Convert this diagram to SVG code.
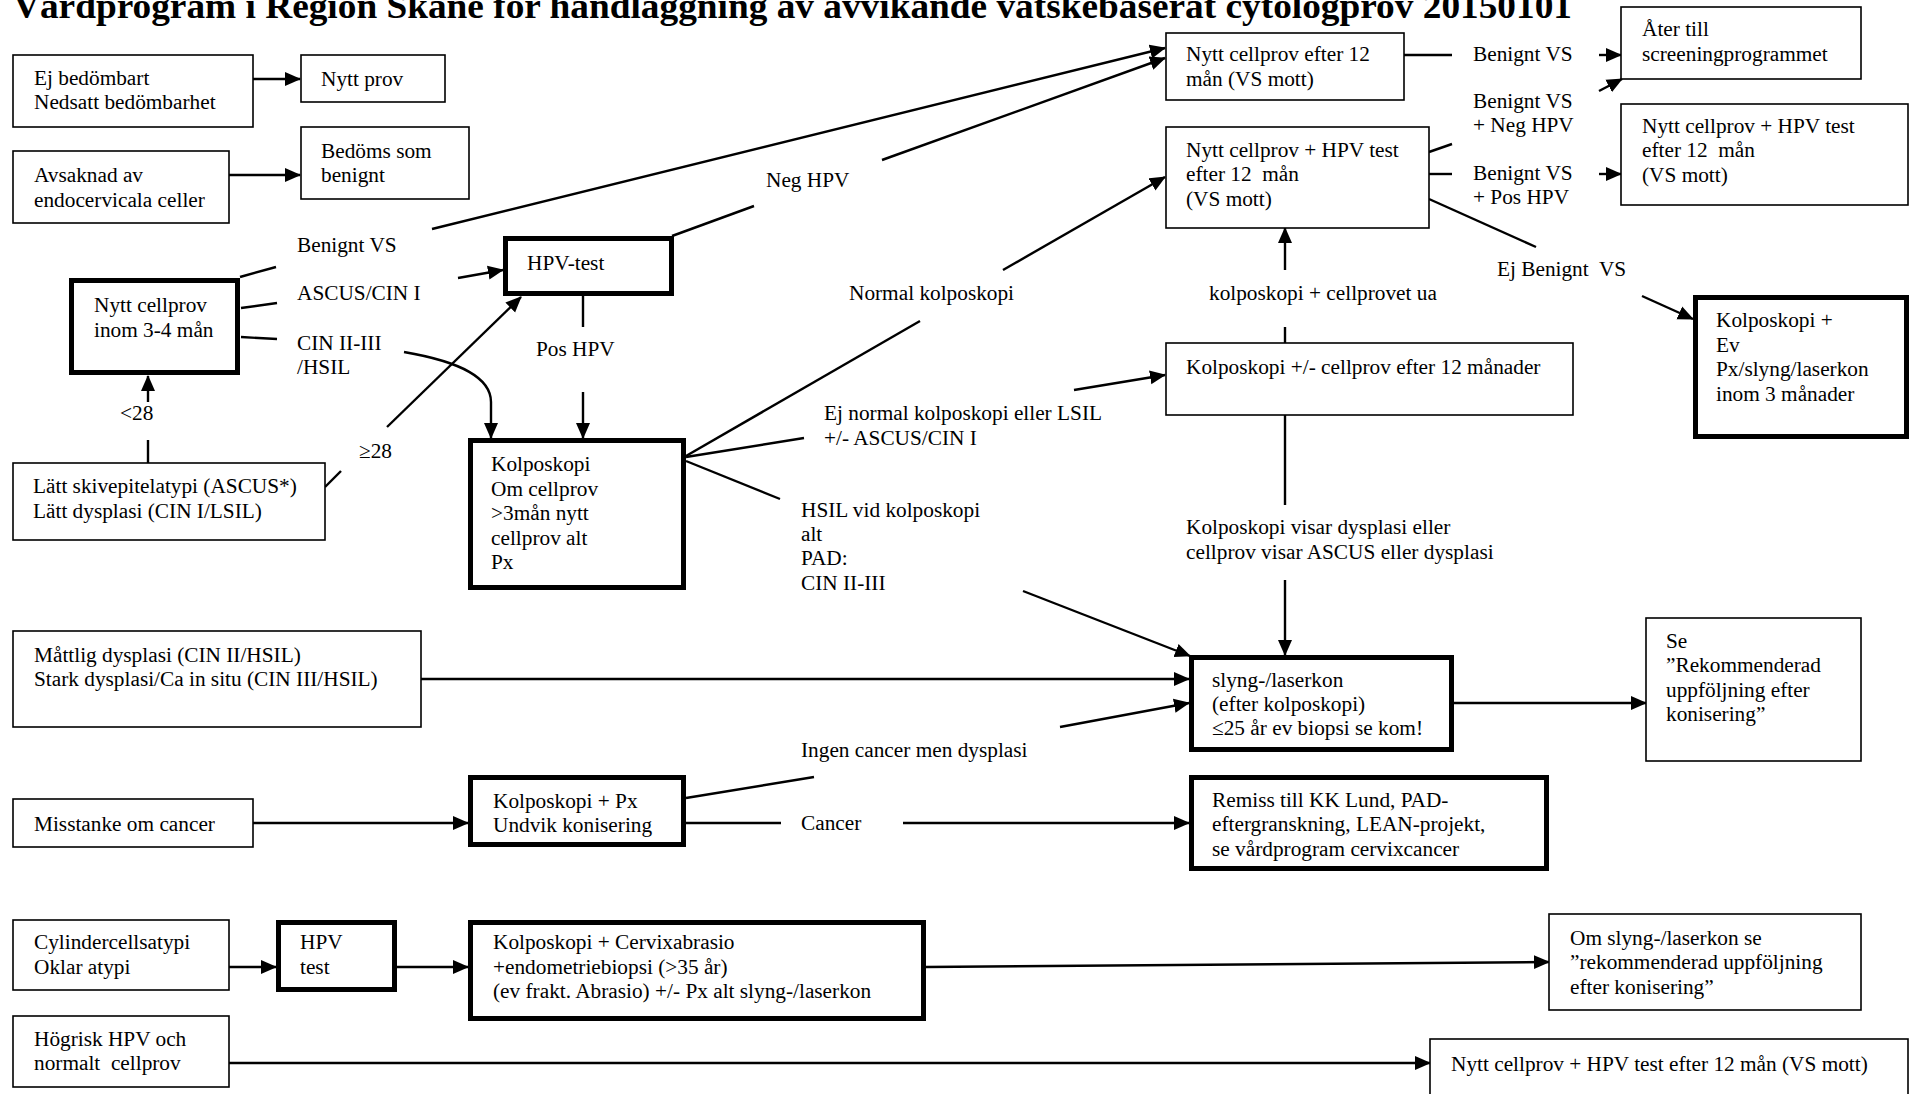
<svg xmlns="http://www.w3.org/2000/svg" width="1910" height="1094" viewBox="0 0 1910 1094">
<style>
text{font-family:"Liberation Serif","Times New Roman",serif;font-size:21.3px;fill:#000;white-space:pre}
.title{font-size:35px;font-weight:bold}
.box{fill:#fff;stroke:#000;stroke-width:1.6}
.thick{fill:#fff;stroke:#000;stroke-width:5}
.c{fill:none;stroke:#000;stroke-width:2.4}
.a{marker-end:url(#arr)}
</style>
<defs>
<marker id="arr" markerUnits="userSpaceOnUse" markerWidth="16" markerHeight="15" viewBox="0 0 16 15" refX="15" refY="7.5" orient="auto"><path d="M0,0.5 L16,7.5 L0,14.5 z" fill="#000"/></marker>
</defs>
<rect width="1910" height="1094" fill="#fff"/>
<text class="title" x="13" y="18" textLength="1559" lengthAdjust="spacingAndGlyphs">Vårdprogram i Region Skåne för handläggning av avvikande vätskebaserat cytologprov 20150101</text>

<g id="connectors">
<path class="c a" d="M253,79 L300,79"/>
<path class="c a" d="M229,175 L300,175"/>
<path class="c" d="M240,277 L276,267"/>
<path class="c a" d="M432,229 L1165,48"/>
<path class="c" d="M241,308 L277,303"/>
<path class="c a" d="M458,278 L503,270"/>
<path class="c" d="M241,337 L277,339"/>
<path class="c a" d="M404,352 C462,362 491,378 491,402 L491,438"/>
<path class="c" d="M672,236 L754,206"/>
<path class="c a" d="M882,160 L1165,58"/>
<path class="c" d="M583,296 L583,327"/>
<path class="c a" d="M583,392 L583,438"/>
<path class="c" d="M148,463 L148,440"/>
<path class="c a" d="M148,402 L148,376"/>
<path class="c" d="M325,487 L341,471"/>
<path class="c a" d="M387,427 L521,297"/>
<path class="c" d="M686,456 L920,321"/>
<path class="c a" d="M1003,270 L1165,177"/>
<path class="c" d="M686,457 L804,438"/>
<path class="c a" d="M1074,390 L1165,375"/>
<path class="c" d="M686,461 L780,499"/>
<path class="c a" d="M1023,591 L1190,656"/>
<path class="c" d="M1404,55 L1452,55"/>
<path class="c a" d="M1599,55 L1621,55"/>
<path class="c" d="M1429,152 L1452,144"/>
<path class="c a" d="M1599,91 L1622,79"/>
<path class="c" d="M1429,174 L1452,174"/>
<path class="c a" d="M1599,174 L1621,174"/>
<path class="c" d="M1429,199 L1536,247"/>
<path class="c a" d="M1642,296 L1693,319"/>
<path class="c" d="M1285,343 L1285,327"/>
<path class="c a" d="M1285,270 L1285,228"/>
<path class="c" d="M1285,415 L1285,505"/>
<path class="c a" d="M1285,580 L1285,655"/>
<path class="c a" d="M421,679 L1189,679"/>
<path class="c" d="M686,798 L814,777"/>
<path class="c a" d="M1060,727 L1189,703"/>
<path class="c" d="M686,823 L781,823"/>
<path class="c a" d="M903,823 L1189,823"/>
<path class="c a" d="M253,823 L468,823"/>
<path class="c a" d="M1454,703 L1646,703"/>
<path class="c a" d="M229,967 L276,967"/>
<path class="c a" d="M397,967 L468,967"/>
<path class="c a" d="M926,967 L1549,962"/>
<path class="c a" d="M229,1063 L1430,1063"/>
<g id="labels">
<text x="297" y="252">Benignt VS</text>
<text x="297" y="300">ASCUS/CIN I</text>
<text x="297" y="350">CIN II-III</text>
<text x="297" y="374">/HSIL</text>
<text x="766" y="187">Neg HPV</text>
<text x="536" y="356">Pos HPV</text>
<text x="120" y="420">&lt;28</text>
<text x="359" y="458">≥28</text>
<text x="849" y="300">Normal kolposkopi</text>
<text x="824" y="420">Ej normal kolposkopi eller LSIL</text>
<text x="824" y="445">+/- ASCUS/CIN I</text>
<text x="801" y="517">HSIL vid kolposkopi</text>
<text x="801" y="541">alt</text>
<text x="801" y="565">PAD:</text>
<text x="801" y="590">CIN II-III</text>
<text x="1209" y="300">kolposkopi + cellprovet ua</text>
<text x="1186" y="534">Kolposkopi visar dysplasi eller</text>
<text x="1186" y="559">cellprov visar ASCUS eller dysplasi</text>
<text x="1473" y="61">Benignt VS</text>
<text x="1473" y="108">Benignt VS</text>
<text x="1473" y="132">+ Neg HPV</text>
<text x="1473" y="180">Benignt VS</text>
<text x="1473" y="204">+ Pos HPV</text>
<text x="1497" y="276">Ej Benignt  VS</text>
<text x="801" y="757">Ingen cancer men dysplasi</text>
<text x="801" y="830">Cancer</text>
</g>
</g>

<g id="n-ej"><rect class="box" x="13" y="55" width="240" height="72"/><text x="34" y="85">Ej bedömbart</text><text x="34" y="109">Nedsatt bedömbarhet</text></g>
<g id="n-nyttprov"><rect class="box" x="301" y="55" width="144" height="47"/><text x="321" y="86">Nytt prov</text></g>
<g id="n-avsaknad"><rect class="box" x="13" y="151" width="216" height="72"/><text x="34" y="182">Avsaknad av</text><text x="34" y="207">endocervicala celler</text></g>
<g id="n-bedoms"><rect class="box" x="301" y="127" width="168" height="72"/><text x="321" y="158">Bedöms som</text><text x="321" y="182">benignt</text></g>
<g id="n-nyttinom"><rect class="thick" x="71.5" y="280.5" width="166" height="92"/><text x="94" y="312">Nytt cellprov</text><text x="94" y="337">inom 3-4 mån</text></g>
<g id="n-hpvtest"><rect class="thick" x="505.5" y="238.5" width="166" height="55"/><text x="527" y="270">HPV-test</text></g>
<g id="n-latt"><rect class="box" x="13" y="463" width="312" height="77"/><text x="33" y="493">Lätt skivepitelatypi (ASCUS*)</text><text x="33" y="518">Lätt dysplasi (CIN I/LSIL)</text></g>
<g id="n-kolpo"><rect class="thick" x="470.5" y="440.5" width="213" height="147"/><text x="491" y="471">Kolposkopi</text><text x="491" y="496">Om cellprov</text><text x="491" y="520">&gt;3mån nytt</text><text x="491" y="545">cellprov alt</text><text x="491" y="569">Px</text></g>
<g id="n-nytt12"><rect class="box" x="1166" y="33" width="238" height="67"/><text x="1186" y="61">Nytt cellprov efter 12</text><text x="1186" y="86">mån (VS mott)</text></g>
<g id="n-nytthpv"><rect class="box" x="1166" y="127" width="263" height="101"/><text x="1186" y="157">Nytt cellprov + HPV test</text><text x="1186" y="181">efter 12  mån</text><text x="1186" y="206">(VS mott)</text></g>
<g id="n-ater"><rect class="box" x="1621" y="7" width="240" height="72"/><text x="1642" y="36">Åter till</text><text x="1642" y="61">screeningprogrammet</text></g>
<g id="n-nytthpv2"><rect class="box" x="1621" y="104" width="287" height="101"/><text x="1642" y="133">Nytt cellprov + HPV test</text><text x="1642" y="157">efter 12  mån</text><text x="1642" y="182">(VS mott)</text></g>
<g id="n-kolpopm"><rect class="box" x="1166" y="343" width="407" height="72"/><text x="1186" y="374">Kolposkopi +/- cellprov efter 12 månader</text></g>
<g id="n-kolpoev"><rect class="thick" x="1695.5" y="297.5" width="211" height="139"/><text x="1716" y="327">Kolposkopi +</text><text x="1716" y="352">Ev</text><text x="1716" y="376">Px/slyng/laserkon</text><text x="1716" y="401">inom 3 månader</text></g>
<g id="n-mattlig"><rect class="box" x="13" y="631" width="408" height="96"/><text x="34" y="662">Måttlig dysplasi (CIN II/HSIL)</text><text x="34" y="686">Stark dysplasi/Ca in situ (CIN III/HSIL)</text></g>
<g id="n-slyng"><rect class="thick" x="1191.5" y="657.5" width="260" height="92"/><text x="1212" y="687">slyng-/laserkon</text><text x="1212" y="711">(efter kolposkopi)</text><text x="1212" y="735">≤25 år ev biopsi se kom!</text></g>
<g id="n-se"><rect class="box" x="1646" y="618" width="215" height="143"/><text x="1666" y="648">Se</text><text x="1666" y="672">”Rekommenderad</text><text x="1666" y="697">uppföljning efter</text><text x="1666" y="721">konisering”</text></g>
<g id="n-misstanke"><rect class="box" x="13" y="799" width="240" height="48"/><text x="34" y="831">Misstanke om cancer</text></g>
<g id="n-kolpopx"><rect class="thick" x="470.5" y="777.5" width="213" height="67"/><text x="493" y="808">Kolposkopi + Px</text><text x="493" y="832">Undvik konisering</text></g>
<g id="n-remiss"><rect class="thick" x="1191.5" y="777.5" width="355" height="91"/><text x="1212" y="807">Remiss till KK Lund, PAD-</text><text x="1212" y="831">eftergranskning, LEAN-projekt,</text><text x="1212" y="856">se vårdprogram cervixcancer</text></g>
<g id="n-cylinder"><rect class="box" x="13" y="920" width="216" height="70"/><text x="34" y="949">Cylindercellsatypi</text><text x="34" y="974">Oklar atypi</text></g>
<g id="n-hpvtest2"><rect class="thick" x="278.5" y="922.5" width="116" height="67"/><text x="300" y="949">HPV</text><text x="300" y="974">test</text></g>
<g id="n-kolpocerv"><rect class="thick" x="470.5" y="922.5" width="453" height="96"/><text x="493" y="949">Kolposkopi + Cervixabrasio</text><text x="493" y="974">+endometriebiopsi (&gt;35 år)</text><text x="493" y="998">(ev frakt. Abrasio) +/- Px alt slyng-/laserkon</text></g>
<g id="n-omslyng"><rect class="box" x="1549" y="914" width="312" height="96"/><text x="1570" y="945">Om slyng-/laserkon se</text><text x="1570" y="969">”rekommenderad uppföljning</text><text x="1570" y="994">efter konisering”</text></g>
<g id="n-hogrisk"><rect class="box" x="13" y="1016" width="216" height="71"/><text x="34" y="1046">Högrisk HPV och</text><text x="34" y="1070">normalt  cellprov</text></g>
<g id="n-nyttbottom"><rect class="box" x="1430" y="1039" width="478" height="80"/><text x="1451" y="1071">Nytt cellprov + HPV test efter 12 mån (VS mott)</text></g>
</svg>
